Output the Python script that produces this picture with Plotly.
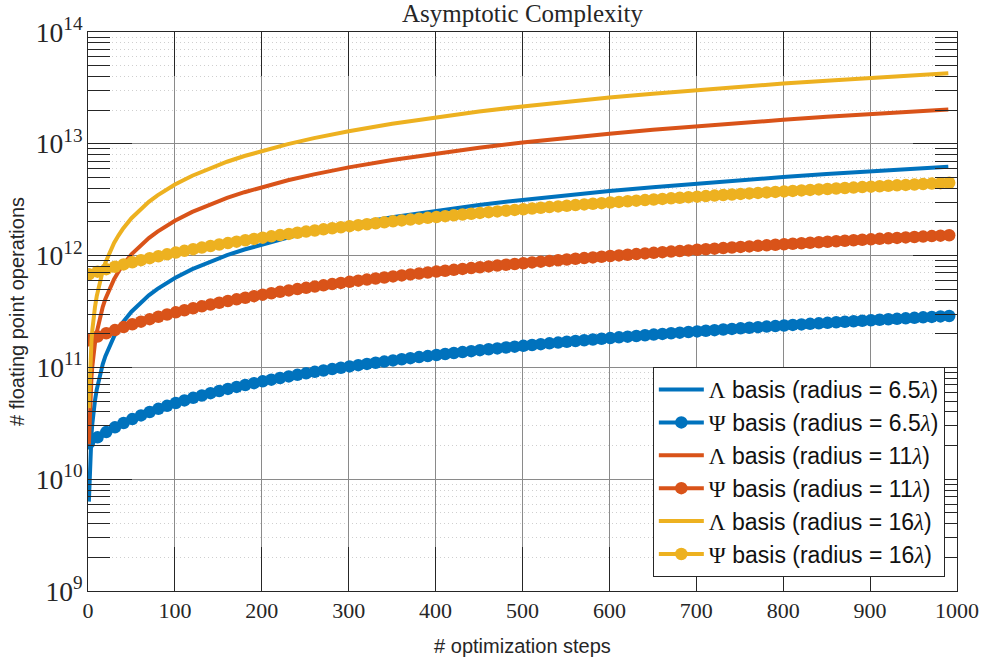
import plotly.graph_objects as go

# ---- data (values in units of 1e9 flops) ----
steps_lambda = [1, 2, 3, 4, 5, 6, 7, 8, 10, 12, 14, 17, 20, 25, 30, 35, 40, 50, 60, 70, 80, 90,
                100, 120, 140, 160, 180, 200, 230, 260, 300, 350, 400, 450, 500, 550, 600, 650,
                700, 750, 800, 850, 900, 950, 990]
lambda_r65 = [6.3, 12.6, 18.9, 25.2, 31.5, 37.8, 44.1, 50.4, 63, 75.6, 88.2, 107.1, 126, 157.5, 189,
              220.5, 252, 315, 378, 441, 504, 567, 630, 756, 882, 1008, 1134, 1260, 1449, 1638, 1890,
              2205, 2520, 2835, 3150, 3465, 3780, 4095, 4410, 4725, 5040, 5355, 5670, 5985, 6237]
lambda_r11 = [20.5, 41, 61.5, 82, 102.5, 123, 143.5, 164, 205, 246, 287, 348.5, 410, 512.5, 615,
              717.5, 820, 1025, 1230, 1435, 1640, 1845, 2050, 2460, 2870, 3280, 3690, 4100, 4715,
              5330, 6150, 7175, 8200, 9225, 10250, 11275, 12300, 13325, 14350, 15375, 16400, 17425,
              18450, 19475, 20295]
lambda_r16 = [43.2, 86.4, 129.6, 172.8, 216, 259.2, 302.4, 345.6, 432, 518.4, 604.8, 734.4, 864, 1080,
              1296, 1512, 1728, 2160, 2592, 3024, 3456, 3888, 4320, 5184, 6048, 6912, 7776, 8640,
              9936, 11232, 12960, 15120, 17280, 19440, 21600, 23760, 25920, 28080, 30240, 32400,
              34560, 36720, 38880, 41040, 42768]

steps_psi = list(range(1, 1000, 10))
psi_r65 = [21.0, 23.7, 26.4, 29.1, 31.8, 34.5, 37.2, 39.9, 42.6, 45.3,
           48.0, 50.7, 53.4, 56.1, 58.8, 61.5, 64.2, 66.9, 69.6, 72.3,
           75.0, 77.7, 80.4, 83.1, 85.8, 88.5, 91.2, 93.9, 96.6, 99.3,
           102.0, 104.7, 107.4, 110.1, 112.8, 115.5, 118.2, 120.9, 123.6, 126.3,
           129.0, 131.7, 134.4, 137.1, 139.8, 142.5, 145.2, 147.9, 150.6, 153.3,
           156.0, 158.7, 161.4, 164.1, 166.8, 169.5, 172.2, 174.9, 177.6, 180.3,
           183.0, 185.7, 188.4, 191.1, 193.8, 196.5, 199.2, 201.9, 204.6, 207.3,
           210.0, 212.7, 215.4, 218.1, 220.8, 223.5, 226.2, 228.9, 231.6, 234.3,
           237.0, 239.7, 242.4, 245.1, 247.8, 250.5, 253.2, 255.9, 258.6, 261.3,
           264.0, 266.7, 269.4, 272.1, 274.8, 277.5, 280.2, 282.9, 285.6, 288.3]
psi_r11 = [175.0, 188.6, 202.2, 215.8, 229.4, 243.0, 256.6, 270.2, 283.8, 297.4,
           311.0, 324.6, 338.2, 351.8, 365.4, 379.0, 392.6, 406.2, 419.8, 433.4,
           447.0, 460.6, 474.2, 487.8, 501.4, 515.0, 528.6, 542.2, 555.8, 569.4,
           583.0, 596.6, 610.2, 623.8, 637.4, 651.0, 664.6, 678.2, 691.8, 705.4,
           719.0, 732.6, 746.2, 759.8, 773.4, 787.0, 800.6, 814.2, 827.8, 841.4,
           855.0, 868.6, 882.2, 895.8, 909.4, 923.0, 936.6, 950.2, 963.8, 977.4,
           991.0, 1004.6, 1018.2, 1031.8, 1045.4, 1059.0, 1072.6, 1086.2, 1099.8, 1113.4,
           1127.0, 1140.6, 1154.2, 1167.8, 1181.4, 1195.0, 1208.6, 1222.2, 1235.8, 1249.4,
           1263.0, 1276.6, 1290.2, 1303.8, 1317.4, 1331.0, 1344.6, 1358.2, 1371.8, 1385.4,
           1399.0, 1412.6, 1426.2, 1439.8, 1453.4, 1467.0, 1480.6, 1494.2, 1507.8, 1521.4]
psi_r16 = [680.0, 718.4, 756.8, 795.2, 833.6, 872.0, 910.4, 948.8, 987.2, 1025.6,
           1064.0, 1102.4, 1140.8, 1179.2, 1217.6, 1256.0, 1294.4, 1332.8, 1371.2, 1409.6,
           1448.0, 1486.4, 1524.8, 1563.2, 1601.6, 1640.0, 1678.4, 1716.8, 1755.2, 1793.6,
           1832.0, 1870.4, 1908.8, 1947.2, 1985.6, 2024.0, 2062.4, 2100.8, 2139.2, 2177.6,
           2216.0, 2254.4, 2292.8, 2331.2, 2369.6, 2408.0, 2446.4, 2484.8, 2523.2, 2561.6,
           2600.0, 2638.4, 2676.8, 2715.2, 2753.6, 2792.0, 2830.4, 2868.8, 2907.2, 2945.6,
           2984.0, 3022.4, 3060.8, 3099.2, 3137.6, 3176.0, 3214.4, 3252.8, 3291.2, 3329.6,
           3368.0, 3406.4, 3444.8, 3483.2, 3521.6, 3560.0, 3598.4, 3636.8, 3675.2, 3713.6,
           3752.0, 3790.4, 3828.8, 3867.2, 3905.6, 3944.0, 3982.4, 4020.8, 4059.2, 4097.6,
           4136.0, 4174.4, 4212.8, 4251.2, 4289.6, 4328.0, 4366.4, 4404.8, 4443.2, 4481.6]

UNIT = 1e9
radii = ["6.5", "11", "16"]
colors = ["#0072BD", "#D95319", "#EDB120"]

SERIF = "Liberation Serif"
SANS = "Liberation Sans, Arial, sans-serif"

W, H = 984, 664
ML, MR, MT, MB = 88, 27, 32, 73

def lab(greek, r):
    return (f'<span style="font-family:{SERIF}">{greek}</span> basis (radius = {r}'
            f'<span style="font-family:{SERIF};font-style:italic">λ</span>)')

fig = go.Figure()
lam_series = [lambda_r65, lambda_r11, lambda_r16]
psi_series = [psi_r65, psi_r11, psi_r16]
for i in range(3):
    fig.add_trace(go.Scatter(
        x=steps_lambda, y=[v * UNIT for v in lam_series[i]], mode="lines",
        line=dict(color=colors[i], width=4), name=lab("Λ", radii[i])))
    fig.add_trace(go.Scatter(
        x=steps_psi, y=[v * UNIT for v in psi_series[i]], mode="lines+markers",
        line=dict(color=colors[i], width=4), marker=dict(size=12.5, color=colors[i]),
        name=lab("Ψ", radii[i])))

fig.update_layout(
    width=W, height=H,
    margin=dict(l=ML, r=MR, t=MT, b=MB, autoexpand=False),
    paper_bgcolor="white", plot_bgcolor="white",
    title=dict(text="Asymptotic Complexity", x=(ML + (W - MR)) / 2 / W, xanchor="center",
               y=1 - 13 / H, yanchor="middle",
               font=dict(family=SERIF, size=25, color="#262626")),
    font=dict(family=SANS, color="#262626"),
    legend=dict(x=0.986, xanchor="right", y=0.025, yanchor="bottom",
                bgcolor="white", bordercolor="#262626", borderwidth=1,
                font=dict(family=SANS, size=23, color="#111111"),
                itemwidth=45, tracegroupgap=0),
    showlegend=True,
)
fig.update_xaxes(
    range=[0, 1000], dtick=100, tick0=0, automargin=False,
    ticks="inside", ticklen=44, tickcolor="#262626", tickwidth=1,
    showline=True, linecolor="#262626", linewidth=1, mirror="ticks",
    showgrid=True, gridcolor="#8a8a8a", gridwidth=1, zeroline=False,
    tickfont=dict(family=SERIF, size=22, color="#262626"),
    title=dict(text="# optimization steps", font=dict(family=SANS, size=20, color="#262626"),
               standoff=16),
)
fig.update_yaxes(
    type="log", range=[9, 14], dtick=1, automargin=False,
    exponentformat="power", showexponent="all",
    ticks="inside", ticklen=44, tickcolor="#262626", tickwidth=1,
    showline=True, linecolor="#262626", linewidth=1, mirror="ticks",
    showgrid=True, gridcolor="#8a8a8a", gridwidth=1, zeroline=False,
    tickfont=dict(family=SERIF, size=22, color="#262626"),
    minor=dict(dtick="D1", ticks="inside", ticklen=22, tickcolor="#262626",
               showgrid=True, gridcolor="#cfcfcf", griddash="1px,3px", gridwidth=1),
    title=dict(text="# floating point operations", font=dict(family=SANS, size=20, color="#262626"),
               standoff=5),
)

fig.write_html("out.html", config={"displayModeBar": False},
               post_script="document.body.style.margin='0';")
